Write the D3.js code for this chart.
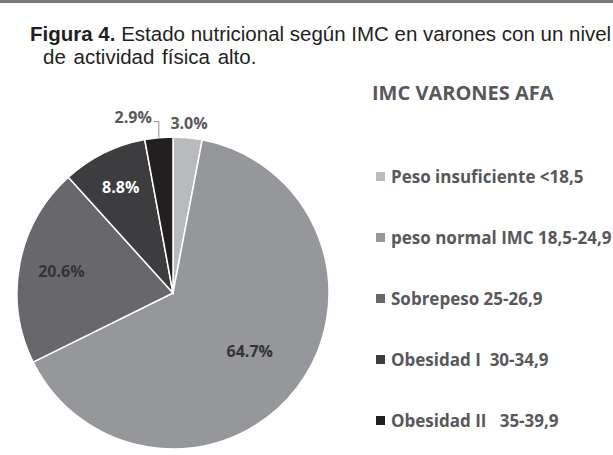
<!DOCTYPE html>
<html>
<head>
<meta charset="utf-8">
<script src="https://cdn.jsdelivr.net/npm/d3@7"></script>
<style>
  body { margin: 0; background: #fff; }
  svg { display: block; }
</style>
</head>
<body>
<svg width="613" height="455"></svg>
<script>
// datos de la figura 4
var categories = ["Peso insuficiente <18,5", "peso normal IMC 18,5-24,9", "Sobrepeso 25-26,9", "Obesidad I  30-34,9", "Obesidad II   35-39,9"];
var values = [3.0, 64.7, 20.6, 8.8, 2.9];
var labels = ["3.0%", "64.7%", "20.6%", "8.8%", "2.9%"];
var legendTitle = "IMC VARONES AFA";

var palette = ["#b9babc", "#96979a", "#68686c", "#3d3d3f", "#231f20"];
var labelColor = ["#58585a", "#333335", "#333335", "#ffffff", "#58585a"];

var svg = d3.select("svg");

// borde superior
svg.append("rect").attr("x", 0).attr("y", 0).attr("width", 613).attr("height", 3).attr("fill", "#7a7a7a");

// titulo
var titleFont = "'Liberation Sans', Arial, sans-serif";
var t1 = svg.append("text").attr("x", 30).attr("y", 41)
  .style("font-family", titleFont).style("font-size", "20.5px").attr("fill", "#231f20");
t1.append("tspan").style("font-weight", "bold").text("Figura 4.");
t1.append("tspan").text(" Estado nutricional según IMC en varones con un nivel");
svg.append("text").attr("x", 43).attr("y", 64)
  .style("font-family", titleFont).style("font-size", "20.5px").style("word-spacing", "2px")
  .attr("fill", "#231f20")
  .text("de actividad física alto.");

var cx = 173, cy = 293, R = 156;
var g = svg.append("g").attr("transform", "translate(" + cx + "," + cy + ")");

var pie = d3.pie().sort(null).value(function(d){ return d; });
var arcs = pie(values);
var arc = d3.arc().innerRadius(0).outerRadius(R);

g.selectAll("path.slice")
  .data(arcs)
  .join("path")
  .attr("class", "slice")
  .attr("d", arc)
  .attr("fill", function(d, i){ return palette[i]; })
  .attr("stroke", "#fff")
  .attr("stroke-width", 1.5);

var outside = d3.arc().innerRadius(R * 1.09).outerRadius(R * 1.09);
var edge = d3.arc().innerRadius(R).outerRadius(R);

var labelFont = "'Open Sans', sans-serif";

arcs.forEach(function(d, i){
  var small = d.value < 5;
  var p;
  if (small) {
    p = outside.centroid(d);
  } else {
    // las porciones grandes llevan la etiqueta mas cerca del centro
    var r = R * (0.78 - 0.0025 * d.value);
    p = d3.arc().innerRadius(r).outerRadius(r).centroid(d);
  }
  var mid = (d.startAngle + d.endAngle) / 2;
  var anchor = "middle";
  var x = p[0], y = p[1];
  if (small && mid > Math.PI) {
    // etiqueta desplazada con linea guia
    var e = edge.centroid(d);
    var yl = e[1] - 16;
    g.append("polyline")
      .attr("points", [[e[0], e[1]], [e[0], yl], [e[0] - 5, yl]].map(function(q){ return q.join(","); }).join(" "))
      .attr("fill", "none").attr("stroke", "#8a8a8a").attr("stroke-width", 1);
    x = e[0] - 7;
    y = yl - 4;
    anchor = "end";
  }
  g.append("text")
    .attr("x", x).attr("y", y)
    .attr("dy", "0.35em")
    .attr("text-anchor", anchor)
    .style("font-family", labelFont).style("font-weight", "bold").style("font-size", "16px")
    .attr("fill", labelColor[i])
    .text(labels[i]);
});

// leyenda
svg.append("text").attr("x", 372).attr("y", 100)
  .style("font-family", labelFont).style("font-weight", "bold").style("font-size", "20px")
  .attr("fill", "#58585a").text(legendTitle);

var ly = d3.scalePoint().domain(categories).range([177, 421]);

var items = svg.selectAll("g.item")
  .data(categories)
  .join("g")
  .attr("class", "item")
  .attr("transform", function(d){ return "translate(376," + ly(d) + ")"; });

items.append("rect")
  .attr("x", 0).attr("y", -5).attr("width", 9).attr("height", 9)
  .attr("fill", function(d, i){ return palette[i]; });

items.append("text")
  .attr("x", 15).attr("y", 0).attr("dy", "0.36em")
  .style("font-family", labelFont).style("font-weight", "bold").style("font-size", "17px")
  .style("white-space", "pre")
  .attr("fill", "#58585a")
  .text(function(d){ return d; });
</script>
</body>
</html>
